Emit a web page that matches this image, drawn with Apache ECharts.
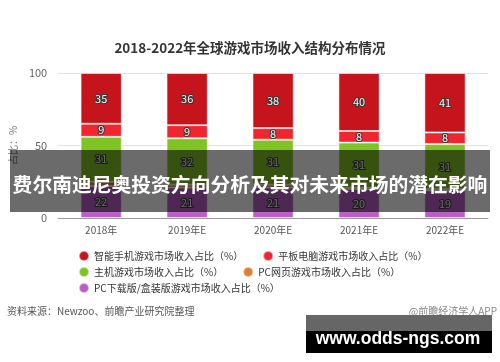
<!DOCTYPE html>
<html><head><meta charset="utf-8">
<script src="https://cdn.jsdelivr.net/npm/echarts@6/dist/echarts.min.js"></script>
<style>html,body{margin:0;padding:0;background:#fff}#c{width:500px;height:362px}</style>
</head><body><div id="c"></div>
<script>
const titleText = '2018-2022年全球游戏市场收入结构分布情况';
const categories = ['2018年', '2019年E', '2020年E', '2021年E', '2022年E'];
const nameSmartphone = '智能手机游戏市场收入占比（%）';
const nameTablet = '平板电脑游戏市场收入占比（%）';
const nameConsole = '主机游戏市场收入占比（%）';
const namePcWeb = 'PC网页游戏市场收入占比（%）';
const namePcDownload = 'PC下载版/盒装版游戏市场收入占比（%）';
const smartphone = [35, 36, 38, 40, 41];
const tablet = [9, 9, 8, 8, 8];
const consoleGame = [31, 32, 31, 31, 31];
const pcWeb = [3, 2, 2, 1, 1];
const pcDownload = [22, 21, 21, 20, 19];
const yMin = 0, yMax = 100, yStep = 50;
const yAxisName = '占比：%';
const sourceText = '资料来源：Newzoo、前瞻产业研究院整理';
const creditText = '@前瞻经济学人APP';
const bannerText = '费尔南迪尼奥投资方向分析及其对未来市场的潜在影响';
const watermarkText = 'www.odds-ngs.com';

const FONT = '"Noto Sans CJK SC", "Noto Sans", sans-serif';
const chart = echarts.init(document.getElementById('c'), null, {renderer: 'canvas'});

const lbl = {
  show: true, position: 'inside', fontSize: 11, fontFamily: FONT,
  color: '#f4f4f4', textBorderColor: '#3a3a3a', textBorderWidth: 2
};
function mk(name, data, color, showLabel) {
  return {
    name, type: 'bar', stack: 'total', data, barWidth: '48%',
    itemStyle: {color, borderColor: 'rgba(255,255,255,0.55)', borderWidth: 1},
    label: showLabel ? lbl : {show: false},
    emphasis: {disabled: true}
  };
}
const legendBase = {
  orient: 'horizontal', icon: 'circle', itemWidth: 10, itemHeight: 10,
  itemGap: 19, padding: 0, left: 78,
  textStyle: {fontSize: 10, color: '#333', fontFamily: FONT}
};

chart.setOption({
  animation: false,
  backgroundColor: '#fff',
  title: {
    text: titleText, left: 'center', top: 36,
    textStyle: {fontSize: 13.5, fontWeight: 'bold', color: '#333', fontFamily: FONT}
  },
  legend: [
    Object.assign({}, legendBase, {top: 250, data: [nameSmartphone, nameTablet]}),
    Object.assign({}, legendBase, {top: 266, data: [nameConsole, namePcWeb]}),
    Object.assign({}, legendBase, {top: 282, data: [namePcDownload]})
  ],
  grid: {left: 58, right: 12, top: 73, bottom: 144, containLabel: false},
  xAxis: {
    type: 'category', data: categories,
    axisLine: {lineStyle: {color: '#9a9a9a'}},
    axisTick: {alignWithLabel: true, length: 4, lineStyle: {color: '#9a9a9a'}},
    axisLabel: {fontSize: 10, color: '#555', margin: 7, fontFamily: FONT}
  },
  yAxis: {
    type: 'value', min: yMin, max: yMax, interval: yStep,
    name: yAxisName, nameLocation: 'middle', nameRotate: 90, nameGap: 40,
    nameTextStyle: {fontSize: 10, color: '#777', fontFamily: FONT},
    axisLine: {show: false}, axisTick: {show: false},
    axisLabel: {fontSize: 11, color: '#666', margin: 11, fontFamily: FONT},
    splitLine: {lineStyle: {color: '#e2e2e2'}}
  },
  series: [
    mk(namePcDownload, pcDownload, '#b860c4', true),
    mk(namePcWeb, pcWeb, '#e07e32', false),
    mk(nameConsole, consoleGame, '#80c423', true),
    mk(nameTablet, tablet, '#ef2530', true),
    mk(nameSmartphone, smartphone, '#c5141b', true)
  ],
  graphic: [
    {type: 'text', left: 7, top: 306, z: 50,
      style: {text: sourceText, fontSize: 10, fill: '#555', fontFamily: FONT}},
    {type: 'text', right: 3, top: 306, z: 50,
      style: {text: creditText, fontSize: 10, fill: '#888', fontFamily: FONT}},
    {type: 'rect', left: 10, top: 150, z: 100,
      shape: {width: 480, height: 62}, style: {fill: 'rgba(0,0,0,0.58)'}},
    {type: 'text', x: 250, y: 184, z: 101,
      style: {text: bannerText, fontSize: 19.8, fontWeight: 'bold', fill: '#fff',
        align: 'center', verticalAlign: 'middle', fontFamily: FONT}},
    {type: 'rect', left: 306, top: 315, z: 100,
      shape: {width: 186, height: 16}, style: {fill: '#666'}},
    {type: 'rect', left: 306, top: 331, z: 100,
      shape: {width: 186, height: 22}, style: {fill: '#000'}},
    {type: 'text', x: 398, y: 339, z: 101,
      style: {text: watermarkText, fontSize: 17.5, fontWeight: 'bold', fill: '#fff',
        align: 'center', verticalAlign: 'middle', fontFamily: '"Liberation Sans", Arial, sans-serif'}}
  ]
});
</script></body></html>
